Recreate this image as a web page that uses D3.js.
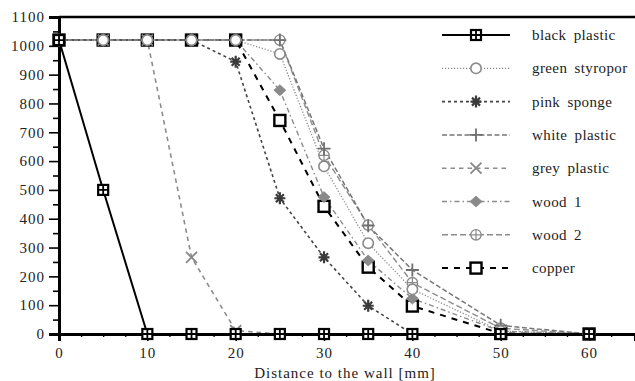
<!DOCTYPE html>
<html><head><meta charset="utf-8">
<script src="https://cdn.jsdelivr.net/npm/d3@7"></script>
<style>
html,body{margin:0;padding:0;background:#fff;}
</style></head>
<body><svg id="c" width="635" height="381"></svg>
<script>
const distances = [0, 5, 10, 15, 20, 25, 30, 35, 40, 50, 60];
const seriesNames = ["black plastic","green styropor","pink sponge","white plastic","grey plastic","wood 1","wood 2","copper"];
const blackPlastic  = [1020, 500, 0, 0, 0, 0, 0, 0, 0, 0, 0];
const greenStyropor = [1020, 1020, 1020, 1020, 1020, 972, 582, 315, 155, 10, 0];
const pinkSponge    = [1020, 1020, 1020, 1020, 945, 471, 266, 98, 0, 0, 0];
const whitePlastic  = [1020, 1020, 1020, 1020, 1020, 1020, 643, 376, 222, 30, 0];
const greyPlastic   = [1020, 1020, 1020, 266, 12, 0, 0, 0, 0, 0, 0];
const wood1         = [1020, 1020, 1020, 1020, 1020, 846, 475, 255, 123, 10, 0];
const wood2         = [1020, 1020, 1020, 1020, 1020, 1020, 620, 378, 178, 20, 0];
const copper        = [1020, 1020, 1020, 1020, 1020, 741, 443, 232, 97, 2, 0];
const xTicks = [0, 10, 20, 30, 40, 50, 60];
const yTicks = [0,100,200,300,400,500,600,700,800,900,1000,1100];
const xLabel = "Distance to the wall [mm]";

const FONT = "'Liberation Serif'";
const values = [blackPlastic, greenStyropor, pinkSponge, whitePlastic, greyPlastic, wood1, wood2, copper];
const styles = [
  {stroke:"#000", w:2,   dash:null,      marker:"sqcross", mc:"#000"},
  {stroke:"#8a8a8a", w:1.3, dash:"1.2,1.8", marker:"circle", mc:"#8a8a8a"},
  {stroke:"#444", w:1.6, dash:"3,3",     marker:"star",   mc:"#3a3a3a"},
  {stroke:"#777", w:1.5, dash:"5,2.5",   marker:"plus",   mc:"#6f6f6f"},
  {stroke:"#8c8c8c", w:1.6, dash:"4.5,4", marker:"x",     mc:"#888"},
  {stroke:"#8c8c8c", w:1.4, dash:"5,3,1.5,3", marker:"diamond", mc:"#8a8a8a"},
  {stroke:"#8c8c8c", w:1.4, dash:"6,3",  marker:"ocross", mc:"#8a8a8a"},
  {stroke:"#000", w:2,   dash:"6,6",     marker:"square", mc:"#000"}
];

const svg = d3.select("#c");
const x = d3.scaleLinear().domain([0, 65.2]).range([59, 635]);
const y = d3.scaleLinear().domain([0, 1100]).range([334, 17]);

function styleText(sel, ls) {
  sel.attr("font-family", null).style("font-family", FONT).style("font-size","15px")
     .style("letter-spacing", ls).style("fill","#222");
}

// axes
const xAxis = d3.axisBottom(x).tickValues(xTicks).tickSize(7).tickPadding(6).tickFormat(d3.format("d"));
const gx = svg.append("g").attr("transform","translate(0,334)").call(xAxis);
gx.attr("font-family", null);
gx.select(".domain").attr("stroke","#000").attr("stroke-width",3);
gx.selectAll(".tick line").attr("stroke","#000").attr("stroke-width",1.6);
styleText(gx.selectAll("text"), "1px");
const xMinor = d3.axisBottom(x).tickValues(d3.range(2.5, 65, 2.5).filter(v=>v%10!==0)).tickSize(3).tickFormat("");
const gxm = svg.append("g").attr("transform","translate(0,334)").call(xMinor);
gxm.select(".domain").remove();
gxm.selectAll(".tick line").attr("stroke","#000").attr("stroke-width",1.3);

const yAxis = d3.axisLeft(y).tickValues(yTicks).tickSize(10).tickPadding(4).tickFormat(d3.format("d"));
const gy = svg.append("g").attr("transform","translate(59,0)").call(yAxis);
gy.attr("font-family", null);
gy.select(".domain").attr("stroke","#000").attr("stroke-width",3);
gy.selectAll(".tick line").attr("stroke","#000").attr("stroke-width",1.6);
styleText(gy.selectAll("text"), "1px");
const yMinor = d3.axisLeft(y).tickValues(d3.range(50, 1100, 100)).tickSize(6).tickFormat("");
const gym = svg.append("g").attr("transform","translate(59,0)").call(yMinor);
gym.select(".domain").remove();
gym.selectAll(".tick line").attr("stroke","#000").attr("stroke-width",1.6);

// top frame line
svg.append("line").attr("x1",x(0)).attr("x2",635).attr("y1",y(1100)).attr("y2",y(1100))
  .attr("stroke","#000").attr("stroke-width",2.6);

styleText(svg.append("text").attr("x",345).attr("y",378).attr("text-anchor","middle").text(xLabel), "1px");

function drawMarker(g, type, cx, cy, c) {
  const m = g.append("g").attr("transform",`translate(${cx},${cy})`);
  if (type==="sqcross") {
    m.append("rect").attr("x",-5).attr("y",-5).attr("width",10).attr("height",10).attr("fill","#fff").attr("stroke",c).attr("stroke-width",2.2);
    m.append("path").attr("d","M-5,0H5M0,-5V5").attr("stroke",c).attr("stroke-width",1.8);
  } else if (type==="circle") {
    m.append("circle").attr("r",5.2).attr("fill","#fff").attr("stroke",c).attr("stroke-width",1.6);
  } else if (type==="star") {
    m.append("path").attr("d","M-5.5,0H5.5M0,-6V6M-4,-4L4,4M-4,4L4,-4").attr("stroke",c).attr("stroke-width",2.2);
  } else if (type==="plus") {
    m.append("path").attr("d","M-6.5,0H6.5M0,-6.5V6.5").attr("stroke",c).attr("stroke-width",1.8);
  } else if (type==="x") {
    m.append("path").attr("d","M-5.5,-5.5L5.5,5.5M-5.5,5.5L5.5,-5.5").attr("stroke",c).attr("stroke-width",1.8);
  } else if (type==="diamond") {
    m.append("path").attr("d","M0,-5.5L6,0L0,5.5L-6,0Z").attr("fill",c).attr("stroke",c).attr("stroke-width",0.8);
  } else if (type==="ocross") {
    m.append("circle").attr("r",5.2).attr("fill","#fff").attr("stroke",c).attr("stroke-width",1.4);
    m.append("path").attr("d","M-5.2,0H5.2M0,-5.2V5.2").attr("stroke",c).attr("stroke-width",1.2);
  } else if (type==="square") {
    m.append("rect").attr("x",-5.5).attr("y",-5.5).attr("width",11).attr("height",11).attr("fill","#fff").attr("stroke",c).attr("stroke-width",2.4);
  }
}

const line = d3.line().x(d=>x(d[0])).y(d=>y(d[1])).curve(d3.curveLinear);
const plot = svg.append("g");
// draw in reverse so black plastic on top
for (let i = values.length-1; i >= 0; i--) {
  const s = styles[i];
  const pts = distances.map((d,j)=>[d, values[i][j]]);
  plot.append("path").attr("d", line(pts)).attr("fill","none").attr("stroke",s.stroke)
    .attr("stroke-width",s.w).attr("stroke-dasharray",s.dash);
}
for (let i = values.length-1; i >= 0; i--) {
  const s = styles[i];
  const g = plot.append("g");
  distances.forEach((d,j)=>drawMarker(g, s.marker, x(d), y(values[i][j]), s.mc));
}

// legend
const leg = svg.append("g");
seriesNames.forEach((name,i)=>{
  const s = styles[i];
  const yy = 35 + i*33.3;
  leg.append("rect").attr("x",436).attr("y",yy-13).attr("width",199).attr("height",26).attr("fill","#fff");
  leg.append("line").attr("x1",442).attr("x2",510).attr("y1",yy).attr("y2",yy)
    .attr("stroke",s.stroke).attr("stroke-width",s.w).attr("stroke-dasharray",s.dash);
  drawMarker(leg, s.marker, 476, yy, s.mc);
  const t = leg.append("text").attr("x",532).attr("y",yy+5).text(name);
  styleText(t, "0.4px");
  t.style("word-spacing","3px");
});
</script></body></html>
